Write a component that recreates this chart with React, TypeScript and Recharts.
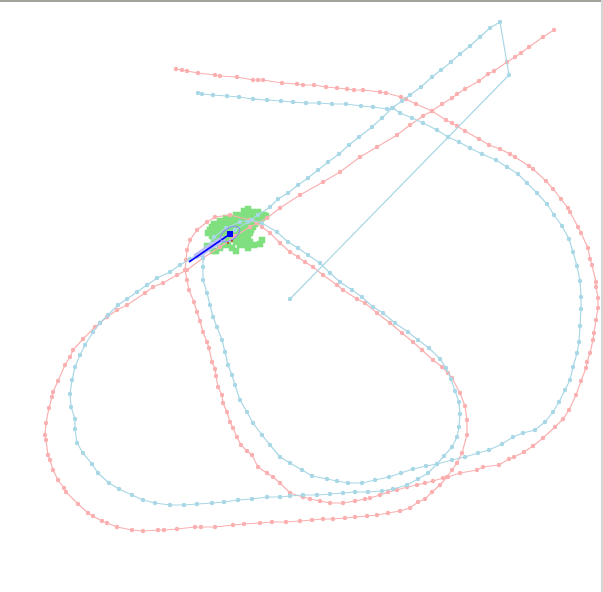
import React from 'react';
import { ScatterChart, Scatter, XAxis, YAxis } from 'recharts';

const W = 603;
const H = 592;
const PINK = '#fab0b0';
const SKY = '#a8d7e5';
const GREEN = '#80e080';

type Pt = [number, number];

// red track (starts top-left, ends top-right)
const pinkTrack: Pt[] = [
  [176, 69], [182, 70], [187, 71], [198, 73], [215, 75], [220, 76], [237, 77], [253, 80], [258, 80], [263, 80],
  [282, 83], [297, 84], [303, 85], [314, 85], [326, 87], [337, 88], [347, 89], [354, 90], [363, 90], [380, 92],
  [386, 93], [401, 97], [406, 99], [416, 104], [432, 111], [446, 120], [452, 123], [457, 126], [465, 131], [479, 139],
  [489, 145], [500, 149], [510, 154], [515, 157], [529, 166], [533, 169], [546, 181], [553, 189], [561, 199], [568, 208],
  [570, 212], [578, 227], [581, 233], [588, 248], [590, 259], [592, 265], [596, 282], [596, 287], [598, 298], [598, 308],
  [596, 320], [594, 333], [593, 340], [590, 353], [587, 362], [586, 368], [581, 381], [576, 395], [569, 410], [563, 419],
  [555, 427], [543, 438], [533, 446], [524, 452], [514, 457], [509, 459], [499, 465], [483, 467], [477, 470], [460, 473],
  [448, 477], [443, 478], [433, 481], [425, 483], [417, 485], [407, 487], [397, 490], [388, 492], [380, 495], [370, 498],
  [365, 499], [355, 501], [343, 503], [330, 503], [320, 501], [310, 499], [303, 497], [290, 493], [280, 483], [273, 477],
  [267, 473], [258, 467], [252, 455], [247, 451], [241, 445], [237, 437], [233, 428], [230, 422], [227, 412], [223, 403],
  [222, 395], [218, 387], [216, 376], [215, 369], [212, 362], [209, 348], [207, 342], [203, 332], [200, 321], [197, 312],
  [194, 302], [189, 290], [187, 280], [185, 270], [186, 260], [187, 250], [190, 240], [197, 230], [207, 222], [215, 217],
  [230, 215], [250, 220], [257, 223], [262, 227], [270, 233], [280, 243], [290, 252], [298, 257], [305, 262], [313, 267],
  [323, 275], [337, 285], [343, 290], [357, 299], [365, 303], [377, 313], [390, 323], [402, 333], [413, 342], [422, 350],
  [433, 360], [442, 367], [448, 373], [452, 378], [460, 393], [465, 406], [467, 420], [467, 435], [462, 453], [457, 463],
  [452, 470], [447, 477], [440, 485], [432, 492], [425, 499], [418, 502], [410, 508], [400, 511], [388, 513], [377, 515],
  [367, 516], [355, 517], [345, 518], [333, 519], [323, 519], [312, 520], [300, 521], [286, 522], [272, 522], [260, 523],
  [244, 524], [233, 525], [215, 527], [201, 527], [195, 527], [177, 529], [164, 530], [158, 530], [143, 531], [132, 530],
  [117, 527], [107, 523], [102, 521], [93, 516], [88, 513], [78, 504], [66, 492], [64, 488], [58, 480], [53, 470],
  [50, 460], [48, 455], [46, 440], [45, 435], [46, 423], [49, 408], [52, 397], [53, 392], [58, 381], [65, 365],
  [70, 357], [73, 350], [83, 339], [95, 327], [100, 323], [107, 317], [117, 310], [127, 305], [145, 293], [153, 287],
  [163, 283], [177, 275], [187, 270], [203, 258], [220, 247], [235, 236], [250, 227], [267, 218], [280, 208], [300, 195],
  [323, 182], [340, 172], [360, 157], [377, 147], [397, 135], [410, 125], [423, 116], [432, 111], [442, 104], [452, 98],
  [457, 94], [465, 89], [479, 81], [488, 74], [494, 71], [507, 62], [515, 57], [521, 53], [529, 47], [543, 37], [554, 30],
];

// blue track (starts top-left, ends at the free point in the middle)
const skyTrack: Pt[] = [
  [198, 93], [202, 94], [213, 95], [227, 96], [239, 97], [253, 99], [267, 100], [281, 101], [293, 102], [306, 103],
  [319, 103], [332, 104], [346, 104], [361, 106], [373, 107], [387, 109], [393, 108], [400, 113], [412, 118], [423, 123],
  [437, 130], [448, 137], [459, 142], [470, 148], [482, 154], [496, 160], [507, 167], [518, 174], [527, 183], [537, 193],
  [547, 204], [554, 215], [562, 226], [569, 239], [573, 252], [577, 266], [580, 281], [581, 297], [581, 309], [580, 326],
  [579, 342], [577, 353], [573, 367], [570, 380], [565, 390], [559, 402], [553, 412], [545, 422], [535, 430], [523, 433],
  [513, 437], [502, 444], [489, 450], [478, 453], [465, 457], [452, 460], [437, 464], [426, 466], [413, 469], [401, 473],
  [389, 477], [375, 480], [362, 483], [348, 483], [337, 481], [327, 479], [312, 476], [302, 470], [290, 463], [280, 457],
  [270, 445], [262, 435], [253, 423], [247, 412], [240, 400], [235, 385], [232, 375], [228, 365], [225, 352], [222, 340],
  [217, 327], [213, 317], [210, 305], [207, 293], [203, 280], [203, 267], [203, 258], [207, 247], [214, 237], [226, 228],
  [240, 222], [252, 220], [262, 223], [277, 232], [288, 242], [298, 248], [308, 255], [320, 263], [330, 273], [340, 282],
  [352, 290], [362, 297], [373, 307], [383, 313], [395, 323], [408, 332], [418, 340], [429, 348], [440, 359], [446, 368],
  [451, 379], [455, 391], [459, 402], [460, 414], [459, 427], [457, 437], [452, 447], [444, 456], [437, 464], [428, 473],
  [418, 479], [407, 485], [393, 489], [382, 491], [368, 492], [355, 492], [343, 493], [330, 494], [317, 495], [303, 495],
  [290, 496], [280, 497], [267, 497], [252, 499], [238, 500], [224, 502], [212, 503], [197, 504], [184, 505], [170, 505],
  [155, 503], [143, 500], [132, 495], [119, 489], [109, 483], [98, 473], [92, 464], [83, 453], [77, 443], [75, 429],
  [75, 419], [71, 407], [70, 394], [72, 380], [75, 367], [80, 355], [85, 345], [93, 332], [100, 323], [108, 315],
  [118, 305], [127, 299], [137, 292], [147, 285], [157, 278], [170, 272], [180, 265], [190, 259], [205, 250], [220, 240],
  [235, 230], [248, 222], [258, 215], [270, 207], [278, 199], [288, 193], [298, 185], [308, 178], [318, 170], [328, 162],
  [339, 154], [349, 145], [359, 137], [372, 127], [382, 118], [392, 108], [402, 101], [410, 95], [421, 87], [432, 77],
  [441, 70], [451, 62], [460, 54], [470, 46], [480, 37], [490, 28], [500, 22], [509, 75], [290, 299],
];

// green sample cloud around the estimate
const greenCloud: Pt[] = [
  [246, 212], [252, 212], [258, 212], [248, 209], [244, 211], [266, 216],
  [236, 215], [242, 215], [248, 215], [254, 215], [260, 215], [264, 215],
  [226, 218], [232, 218], [238, 218], [244, 218], [250, 218], [256, 218], [262, 218],
  [220, 221], [226, 221], [232, 221], [238, 221], [244, 221], [250, 221], [256, 221], [260, 221],
  [214, 224], [220, 224], [226, 224], [232, 224], [238, 224], [244, 224], [250, 224], [255, 224],
  [212, 227], [218, 227], [224, 227], [230, 227], [236, 227], [242, 227], [248, 227], [253, 227],
  [210, 230], [216, 230], [222, 230], [228, 230], [234, 230], [240, 230], [246, 230], [251, 230],
  [208, 233], [214, 233], [220, 233], [226, 233], [234, 233], [240, 233], [245, 233], [250, 233],
  [212, 236], [218, 236], [224, 236], [230, 236], [236, 236], [242, 236], [248, 236],
  [214, 239], [220, 239], [226, 239], [234, 239], [240, 239], [246, 239],
  [218, 242], [224, 242], [236, 242], [242, 242], [250, 242], [262, 240],
  [222, 245], [228, 245], [240, 245], [246, 245], [254, 245], [260, 244],
  [220, 248], [232, 248], [248, 248], [236, 251], [216, 251], [207, 246], [213, 251],
];

const haloBand: Pt[] = [[195, 257], [224, 238]];
const estimateLine: Pt[] = [[189, 262], [230, 234]];
const estimateHead: Pt[] = [[230, 234]];
const redMarks: Pt[] = [[228, 243], [232, 241]];

const rows = (pts: Pt[]) => pts.map(([x, y]) => ({ x, y }));

const dotShape = (color: string, r: number) => (p: any) => (
  <circle cx={p.cx} cy={p.cy} r={r} fill={color} />
);

const squareShape = (color: string, s: number) => (p: any) => (
  <rect x={p.cx - s / 2} y={p.cy - s / 2} width={s} height={s} fill={color} />
);

const noShape = () => <g />;

const ellipseShape = (p: any) => (
  <ellipse
    cx={p.cx}
    cy={p.cy}
    rx={11}
    ry={6}
    fill="none"
    stroke="#8c8cf5"
    strokeWidth={1}
    transform={`rotate(-33 ${p.cx} ${p.cy})`}
  />
);

export default function App() {
  return (
    <div style={{ position: 'absolute', left: 0, top: 0, width: W, height: H, background: '#fff' }}>
      <div style={{ position: 'absolute', left: 0, top: 0, width: W, height: 2, background: '#a3a39c' }} />
      <div style={{ position: 'absolute', left: W - 2, top: 0, width: 2, height: H, background: '#d6d6d6' }} />
      <div style={{ position: 'absolute', left: 0, top: 0 }}>
        <ScatterChart width={W} height={H} margin={{ top: 0, right: 0, bottom: 0, left: 0 }}>
          <XAxis type="number" dataKey="x" domain={[0, W]} hide />
          <YAxis type="number" dataKey="y" domain={[0, H]} reversed hide />
          <Scatter data={rows(greenCloud)} shape={squareShape(GREEN, 6.5)} isAnimationActive={false} />
          <Scatter
            data={rows(pinkTrack)}
            line={{ stroke: PINK, strokeWidth: 1.2 }}
            shape={dotShape(PINK, 2.2)}
            isAnimationActive={false}
          />
          <Scatter
            data={rows(skyTrack)}
            line={{ stroke: SKY, strokeWidth: 1.2 }}
            shape={dotShape(SKY, 2.2)}
            isAnimationActive={false}
          />
          <Scatter
            data={rows(haloBand)}
            line={{ stroke: '#bcbcf6', strokeWidth: 6 }}
            shape={noShape}
            isAnimationActive={false}
          />
          <Scatter
            data={rows(estimateLine)}
            line={{ stroke: '#0000ff', strokeWidth: 1.6 }}
            shape={noShape}
            isAnimationActive={false}
          />
          <Scatter data={rows(estimateHead)} shape={ellipseShape} isAnimationActive={false} />
          <Scatter data={rows(estimateHead)} shape={squareShape('#0000ff', 6)} isAnimationActive={false} />
          <Scatter data={rows(redMarks)} shape={squareShape('#d40000', 1.5)} isAnimationActive={false} />
        </ScatterChart>
      </div>
    </div>
  );
}
